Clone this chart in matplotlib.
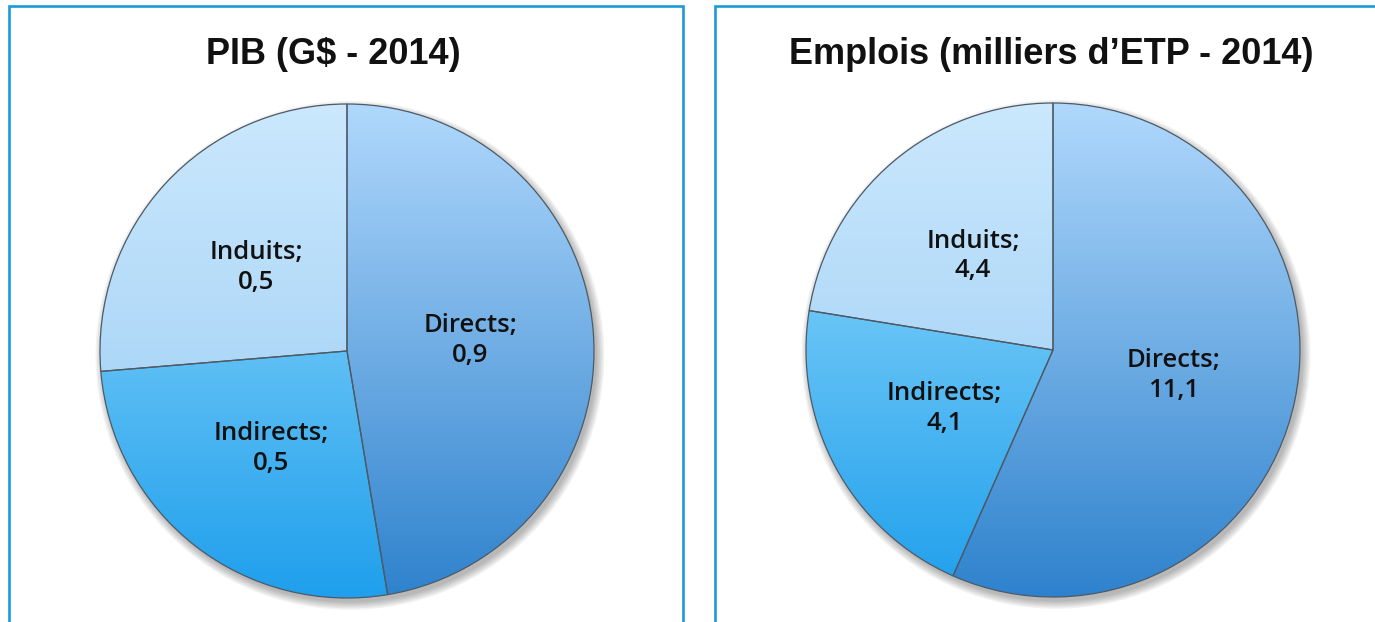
import numpy as np
import matplotlib.pyplot as plt
from matplotlib.colors import LinearSegmentedColormap
from matplotlib.patches import Circle

# data
categories = ["Directs", "Indirects", "Induits"]
pib_values = [0.9, 0.5, 0.5]
emplois_values = [11.1, 4.1, 4.4]
titles = ["PIB (G\\$ - 2014)", "Emplois (milliers d\u2019ETP - 2014)"]

# top / bottom colour of the vertical gradient for each slice
grad_colors = {
    "Directs": ("#b0d8fc", "#2e82cd"),
    "Indirects": ("#9fe0fd", "#1f9fec"),
    "Induits": ("#cbe8fd", "#94c9f3"),
}

W, H = 1375, 622
fig = plt.figure(figsize=(W / 100, H / 100), dpi=100)

# background axes in pixel coords for the panel frames and titles
bg = fig.add_axes([0, 0, 1, 1])
bg.set_xlim(0, W)
bg.set_ylim(H, 0)
bg.axis("off")
blue = "#1b9ad8"
bg.plot([9, 9, 683, 683], [H + 5, 6, 6, H + 5], color=blue, lw=1.9, solid_joinstyle="miter")
bg.plot([715, 715, W + 5], [H + 5, 6, 6], color=blue, lw=1.9, solid_joinstyle="miter")

title_x = [333, 1051]
for t, x in zip(titles, title_x):
    bg.text(x, 54, t, ha="center", va="center", fontsize=26, fontweight="bold",
            family=["Liberation Sans", "DejaVu Sans"], color="#111111")


def draw_pie(cx, cy, r, values):
    ax = fig.add_axes([(cx - r) / W, (H - cy - r) / H, 2 * r / W, 2 * r / H])
    ax.set_xlim(-1.0, 1.0)
    ax.set_ylim(-1.0, 1.0)
    ax.axis("off")
    # soft drop shadow
    for k in range(6):
        ax.add_patch(Circle((0.012, -0.018), 1.0 + 0.006 * k, color="#000000",
                            alpha=0.05, lw=0, zorder=0, clip_on=False))
    labels = ["%s;\n%s" % (c, ("%.1f" % v).replace(".", ",")) for c, v in zip(categories, values)]
    wedges, texts = ax.pie(values, labels=labels, startangle=90, counterclock=False,
                           radius=1.0, labeldistance=0.5,
                           wedgeprops=dict(edgecolor="#4d5a66", linewidth=0.9))
    yy = np.linspace(0, 1, 256).reshape(-1, 1)
    for w, c in zip(wedges, categories):
        cmap = LinearSegmentedColormap.from_list(c, grad_colors[c])
        w.set_facecolor("none")
        w.set_zorder(3)
        w.set_clip_on(False)
        im = ax.imshow(yy, cmap=cmap, extent=(-1, 1, -1, 1), aspect="auto",
                       origin="upper", zorder=2, vmin=0, vmax=1)
        im.set_clip_path(w)
    ax.set_xlim(-1.0, 1.0)
    ax.set_ylim(-1.0, 1.0)
    for t in texts:
        t.set_ha("center")
        t.set_va("center")
        t.set_fontsize(18.5)
        t.set_family(["Open Sans", "DejaVu Sans"])
        t.set_fontweight("semibold")
        t.set_linespacing(1.25)
        t.set_color("#111111")
        t.set_zorder(5)
    return ax


draw_pie(347, 351, 247, pib_values)
draw_pie(1053, 350, 247, emplois_values)

fig.savefig("out.png", dpi=100)
